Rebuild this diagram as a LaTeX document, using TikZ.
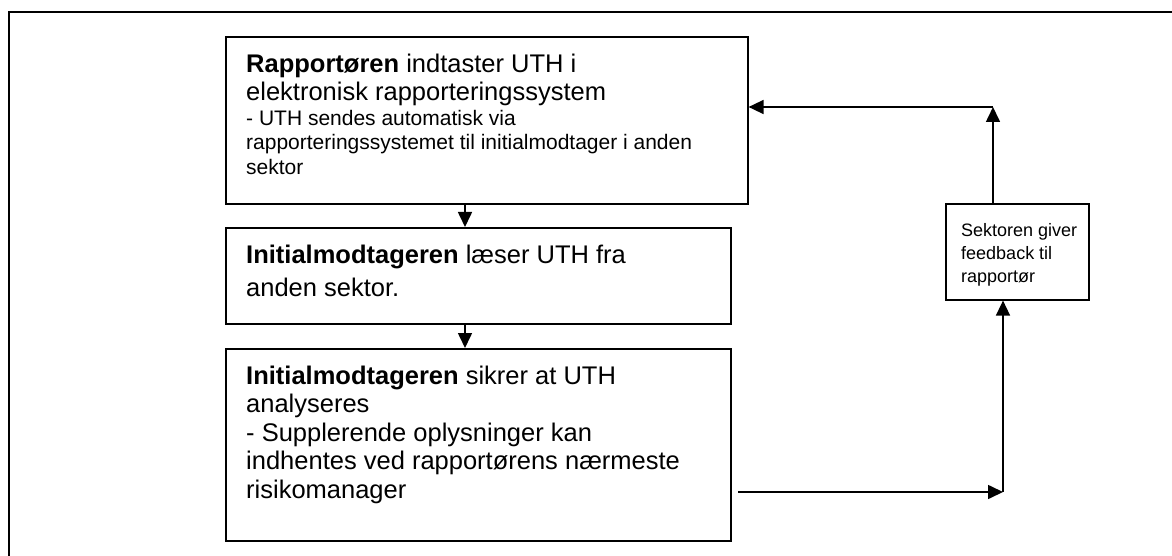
\documentclass[tikz,border=0pt]{standalone}
\usepackage{fontspec}
\setmainfont{Liberation Sans}
\usetikzlibrary{arrows.meta}
\newcommand{\bigtxt}{\fontsize{25.5}{28.5}\selectfont}
\newcommand{\smalltxt}{\fontsize{21}{24.5}\selectfont}
\newcommand{\sidetxt}{\fontsize{18}{23}\selectfont}
\tikzset{
  box/.style={draw=black, line width=1.6pt, rectangle, inner sep=0pt, anchor=north west},
  txt/.style={anchor=north west, inner sep=0pt, align=flush left, text width=#1},
  arr/.style={line width=1.6pt, -{Triangle[length=15pt,width=14pt]}}
}
\begin{document}
\begin{tikzpicture}[x=1pt,y=-1pt]
\useasboundingbox (0,0) rectangle (1172,556);
\begin{scope}
\clip (0,0) rectangle (1172,556);
\draw[line width=2pt] (9,12) rectangle (1200,600);
\end{scope}
% boxes
\node[box, minimum width=522pt, minimum height=167pt] (b1) at (225,36) {};
\node[box, minimum width=505pt, minimum height=96pt] (b2) at (225,227) {};
\node[box, minimum width=505pt, minimum height=192pt] (b3) at (225,348) {};
\node[box, minimum width=143pt, minimum height=96pt] (b4) at (945,203) {};
% texts
\node[txt=490pt, font=\bigtxt] (t1) at (246,52) {\strut\textbf{Rapportøren} indtaster UTH i\\elektronisk rapporteringssystem\par
\smalltxt - UTH sendes automatisk via\\rapporteringssystemet til initialmodtager i anden\\sektor\par};
\node[txt=480pt, font=\bigtxt] (t2) at (246,243) {\strut\textbf{Initialmodtageren} læser UTH fra\\[5pt]anden sektor.\par};
\node[txt=480pt, font=\bigtxt] (t3) at (246,364) {\strut\textbf{Initialmodtageren} sikrer at UTH\\analyseres\\- Supplerende oplysninger kan\\indhentes ved rapportørens nærmeste\\risikomanager\par};
\node[txt=125pt, font=\sidetxt] (t4) at (961,220) {\strut Sektoren giver\\feedback til\\rapportør\par};
% connectors
\coordinate (c0) at (738,492);
\coordinate (c1) at (1003,492);
\coordinate (c2) at (993,107);
\draw[arr] ([xshift=240pt]b1.south west) -- ([xshift=240pt]b2.north west);
\draw[arr] ([xshift=240pt]b2.south west) -- ([xshift=240pt]b3.north west);
\draw[arr] (c0) -- (c1);
\draw[arr] (c1) -- (c1 |- b4.south);
\draw[arr] (c2 |- b4.north) -- (c2);
\draw[arr] (c2) -- (c2 -| b1.east);
\end{tikzpicture}
\end{document}
